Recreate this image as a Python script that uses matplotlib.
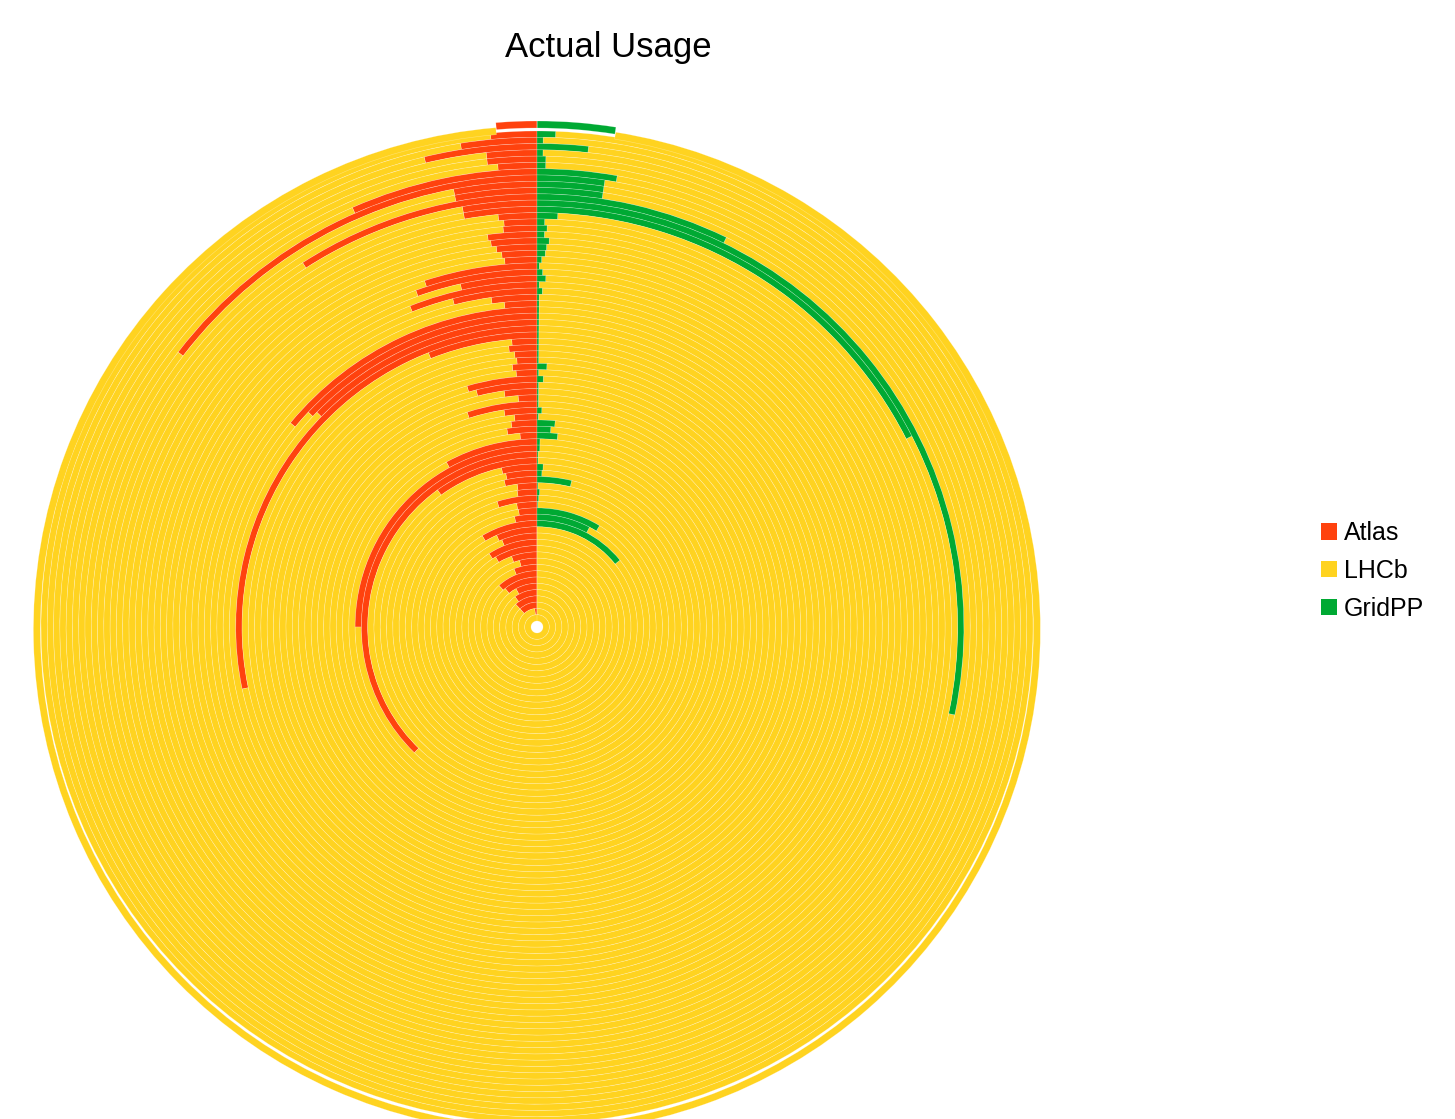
import numpy as np
import matplotlib.pyplot as plt
from matplotlib.patches import Patch

plt.rcParams['font.family'] = ['Liberation Sans', 'DejaVu Sans']

series = ['Atlas', 'LHCb', 'GridPP']
colors = ['#ff420e', '#ffd320', '#00a933']

# outermost ring (drawn slightly exploded)
outer_atlas = 1.3
outer_gridpp = 2.5

# shares in percent for the inner rings, outermost first
atlas = [1.5, 2.5, 3.75, 1.7, 1.7, 1.35, 6.6, 14.6, 3.0, 3.0,
         9.1, 2.8, 2.8, 1.5, 1.3, 1.35, 2.0, 1.9, 1.7, 1.5,
         1.4, 5.0, 5.5, 3.5, 6.0, 4.0, 2.2, 1.6, 14.0, 13.0,
         12.7, 28.3, 6.0, 1.4, 1.6, 1.3, 1.2, 1.5, 1.3, 4.5,
         4.0, 2.2, 1.3, 5.0, 2.4, 1.7, 2.0, 2.4, 1.4, 8.0,
         25.0, 37.7, 10.0, 3.5, 3.2, 3.5, 2.2, 2.3, 4.9, 2.6,
         2.5, 3.2, 8.6, 6.6, 6.1, 9.2, 8.5, 5.5, 4.1, 6.0,
         11.8, 11.0, 8.0, 10.0, 12.0, 12.0, 2.0, 0.0]
gridpp = [0.6, 0.2, 1.7, 0.2, 0.3, 0.3, 2.8, 2.4, 2.4, 2.4,
          7.2, 28.3, 17.5, 0.8, 0.3, 0.4, 0.3, 0.5, 0.4, 0.35,
          0.2, 0.1, 0.25, 0.4, 0.1, 0.25, 0.1, 0.1, 0.1, 0.1,
          0.1, 0.1, 0.1, 0.1, 0.1, 0.1, 0.1, 0.6, 0.1, 0.4,
          0.1, 0.1, 0.1, 0.1, 0.35, 0.1, 1.4, 1.1, 1.7, 0.25,
          0.25, 0.1, 0.1, 0.6, 0.5, 3.7, 0.1, 0.3, 0.2, 0.1,
          8.8, 7.7, 14.2, 0.0, 0.0, 0.0, 0.0, 0.0, 0.0, 0.0,
          0.0, 0.0, 0.0, 0.0, 0.0, 0.0, 0.0, 0.0]
lhcb = [100 - a - g for a, g in zip(atlas, gridpp)]

W, H = 1455, 1119
fig = plt.figure(figsize=(W / 100, H / 100), dpi=100)
ax = fig.add_axes([0, 0, 1, 1])

cx, cy = 537, H - 627
r_out = 496
hole = 6
n = len(atlas)
w = (r_out - hole) / n
edge = dict(edgecolor=(1, 1, 1, 0.35), linewidth=0.4)

for k in range(n):
    ax.pie([atlas[k], lhcb[k], gridpp[k]], radius=r_out - k * w, center=(cx, cy),
           startangle=90, counterclock=True, colors=colors,
           wedgeprops=dict(width=w, **edge))

ax.pie([outer_atlas, 100 - outer_atlas - outer_gridpp, outer_gridpp],
       radius=r_out + 7.5, center=(cx, cy), explode=[2.5, 2.5, 2.5],
       startangle=90, counterclock=True, colors=colors,
       wedgeprops=dict(width=7, **edge))

ax.set_xlim(0, W)
ax.set_ylim(0, H)
ax.set_aspect('equal')
ax.axis('off')

ax.text(608, H - 47, 'Actual Usage', ha='center', va='center', fontsize=25)

handles = [Patch(facecolor=c, edgecolor='none') for c in colors]
ax.legend(handles, series, loc='center left', bbox_to_anchor=(1298 / W, 1 - 571 / H),
          bbox_transform=fig.transFigure, frameon=False, fontsize=18,
          handlelength=0.64, handleheight=0.64, handletextpad=0.3, labelspacing=0.55)

fig.savefig('out.png', dpi=100)
